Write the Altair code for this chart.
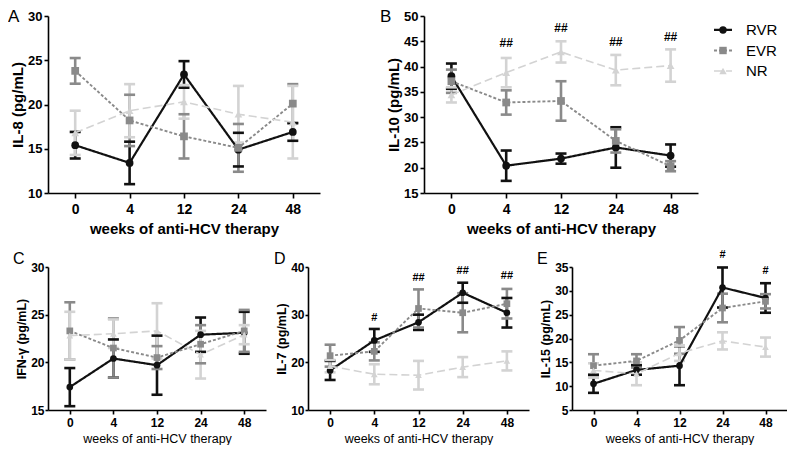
import altair as alt
import pandas as pd

FONT = "Liberation Sans"

weeks = ["0", "4", "12", "24", "48"]
groups = ["RVR", "EVR", "NR"]
colors = ["#111111", "#8a8a8a", "#d3d3d3"]
dashes = [[1, 0], [3, 2], [8, 4]]
widths = [2.2, 1.6, 1.8]
shapes = ["circle", "square", "triangle-up"]

# Panel A: IL-8
a_rvr = [15.4, 13.4, 23.4, 14.9, 16.9]
a_rvr_err = [1.5, 2.4, 1.5, 1.9, 1.0]
a_evr = [23.8, 18.2, 16.4, 15.1, 20.1]
a_evr_err = [1.45, 2.9, 2.5, 2.7, 2.2]
a_nr = [16.8, 19.3, 20.3, 18.9, 18.0]
a_nr_err = [2.5, 3.0, 1.9, 3.2, 4.1]

# Panel B: IL-10
b_rvr = [38.1, 20.4, 21.8, 24.0, 22.4]
b_rvr_err = [2.5, 3.0, 1.0, 4.0, 2.2]
b_evr = [37.1, 32.9, 33.2, 25.3, 20.3]
b_evr_err = [2.3, 2.4, 3.9, 2.3, 1.0]
b_nr = [34.4, 38.8, 42.9, 39.3, 40.2]
b_nr_err = [1.5, 2.9, 2.1, 3.0, 3.2]
b_note_weeks = ["4", "12", "24", "48"]
b_note_y = [44.7, 47.6, 44.9, 45.9]
b_note_txt = ["##", "##", "##", "##"]

# Panel C: IFN-gamma
c_rvr = [17.4, 20.4, 19.7, 22.9, 23.1]
c_rvr_err = [2.0, 2.0, 3.1, 1.8, 2.2]
c_evr = [23.3, 21.5, 20.5, 21.9, 23.3]
c_evr_err = [3.0, 3.1, 1.2, 2.0, 2.2]
c_nr = [22.8, 23.0, 23.3, 20.8, 22.9]
c_nr_err = [2.5, 1.5, 2.9, 2.5, 1.0]

# Panel D: IL-7
d_rvr = [18.3, 24.6, 28.4, 34.6, 30.4]
d_rvr_err = [2.0, 2.4, 1.6, 2.1, 3.1]
d_evr = [21.4, 22.3, 31.3, 30.4, 32.3]
d_evr_err = [2.3, 1.9, 4.0, 4.1, 3.1]
d_nr = [19.2, 17.5, 17.3, 19.0, 20.3]
d_nr_err = [1.3, 2.1, 3.0, 2.1, 2.0]
d_note_weeks = ["4", "12", "24", "48"]
d_note_y = [29.2, 37.6, 39.1, 38.1]
d_note_txt = ["#", "##", "##", "##"]

# Panel E: IL-15
e_rvr = [10.5, 13.4, 14.3, 30.7, 28.5]
e_rvr_err = [1.9, 1.0, 4.1, 4.2, 3.1]
e_evr = [14.3, 15.3, 19.6, 26.4, 27.8]
e_evr_err = [2.4, 1.4, 2.8, 3.0, 1.5]
e_nr = [13.3, 12.6, 16.9, 19.5, 18.2]
e_nr_err = [1.5, 2.4, 1.6, 1.8, 2.0]
e_note_weeks = ["24", "48"]
e_note_y = [37.6, 34.1]
e_note_txt = ["#", "#"]


def make_df(means, errs):
    rows = []
    for g, ml, el in zip(groups, means, errs):
        for wk, m, e in zip(weeks, ml, el):
            rows.append({"week": wk, "group": g, "mean": m, "lo": m - e, "hi": m + e})
    return pd.DataFrame(rows)


color = alt.Color("group:N", scale=alt.Scale(domain=groups, range=colors), legend=None)
dash = alt.StrokeDash("group:N", scale=alt.Scale(domain=groups, range=dashes), legend=None)
swidth = alt.StrokeWidth("group:N", scale=alt.Scale(domain=groups, range=widths), legend=None)
shape = alt.Shape("group:N", scale=alt.Scale(domain=groups, range=shapes), legend=None)


def panel(letter, ytitle, means, errs, ydomain, yticks, notes, w, h, big, lx, ly):
    df = make_df(means, errs)
    lab = 14 if big else 12
    tit = 15 if big else 12.5
    xaxis = alt.Axis(title="weeks of anti-HCV therapy", labelAngle=0, labelFontSize=lab,
                     titleFontSize=tit, titleFontWeight="bold" if big else "normal",
                     labelPadding=4 if big else 3, titlePadding=5 if big else 4,
                     tickSize=5 if big else 4)
    yaxis = alt.Axis(title=ytitle, values=yticks, labelFontSize=13 if big else 12,
                     titleFontSize=tit, labelPadding=2 if big else 1, titlePadding=2 if big else 2,
                     tickSize=4 if big else 3)
    xs = alt.Scale(type="point", padding=0.5, domain=weeks)
    ys = alt.Scale(domain=ydomain, nice=False, zero=False)

    def xe():
        return alt.X("week:N", sort=weeks, scale=xs, axis=xaxis)

    def ye(f):
        return alt.Y(f, scale=ys, axis=yaxis, title=ytitle)

    base = alt.Chart(df)
    bars = base.mark_rule(strokeWidth=2.6).encode(x=xe(), y=ye("lo:Q"), y2="hi:Q", color=color)
    cap_lo = base.mark_tick(thickness=2.6, size=11, opacity=1).encode(x=xe(), y=ye("lo:Q"), color=color)
    cap_hi = base.mark_tick(thickness=2.6, size=11, opacity=1).encode(x=xe(), y=ye("hi:Q"), color=color)
    line = base.mark_line().encode(x=xe(), y=ye("mean:Q"), color=color, strokeDash=dash,
                                   strokeWidth=swidth)
    pts = base.mark_point(filled=True, opacity=1, size=60 if big else 45).encode(
        x=xe(), y=ye("mean:Q"), color=color, shape=shape)
    layers = [bars, cap_lo, cap_hi, line, pts]
    if notes is not None:
        nw, nyv, nt = notes
        ndf = pd.DataFrame({"week": nw, "yv": nyv, "txt": nt})
        layers.append(alt.Chart(ndf).mark_text(fontSize=12 if big else 11, fontWeight="bold",
                                               color="black", font=FONT).encode(
            x=xe(), y=ye("yv:Q"), text="txt:N"))
    ldf = pd.DataFrame({"t": [letter]})
    layers.append(alt.Chart(ldf).mark_text(align="left", baseline="top", fontSize=17 if big else 16,
                                           color="black", font=FONT, x=lx, y=ly).encode(text="t:N"))
    return alt.layer(*layers).properties(width=w, height=h)


A = panel("A", "IL-8 (pg/mL)", [a_rvr, a_evr, a_nr], [a_rvr_err, a_evr_err, a_nr_err],
          [10, 30], [10, 15, 20, 25, 30], None, 272, 177, True, -40, -7)
B = panel("B", "IL-10 (pg/mL)", [b_rvr, b_evr, b_nr], [b_rvr_err, b_evr_err, b_nr_err],
          [15, 50], [15, 20, 25, 30, 35, 40, 45, 50], (b_note_weeks, b_note_y, b_note_txt),
          274, 177, True, -44, -7)
C = panel("C", "IFN-\u03b3 (pg/mL)", [c_rvr, c_evr, c_nr], [c_rvr_err, c_evr_err, c_nr_err],
          [15, 30], [15, 20, 25, 30], None, 218, 143, False, -35, -16)
D = panel("D", "IL-7 (pg/mL)", [d_rvr, d_evr, d_nr], [d_rvr_err, d_evr_err, d_nr_err],
          [10, 40], [10, 20, 30, 40], (d_note_weeks, d_note_y, d_note_txt),
          221, 143, False, -34, -16)
E = panel("E", "IL-15 (pg/mL)", [e_rvr, e_evr, e_nr], [e_rvr_err, e_evr_err, e_nr_err],
          [5, 35], [5, 10, 15, 20, 25, 30, 35], (e_note_weeks, e_note_y, e_note_txt),
          215, 143, False, -35, -16)

leg_df = pd.DataFrame({"group": groups})
lys = alt.Y("group:N", sort=groups, scale=alt.Scale(type="point", domain=groups, padding=0.68), axis=None)
leg_line = alt.Chart(leg_df).mark_rule().encode(x=alt.value(0), x2=alt.value(18), y=lys, color=color,
                                                strokeDash=dash, strokeWidth=swidth)
leg_pt = alt.Chart(leg_df).mark_point(filled=True, opacity=1, size=55).encode(
    x=alt.value(9), y=lys, color=color, shape=shape)
leg_txt = alt.Chart(leg_df).mark_text(align="left", fontSize=15, font=FONT, color="black").encode(
    x=alt.value(32), y=lys, text="group:N")
legend = alt.layer(leg_line, leg_pt, leg_txt).properties(width=62, height=69)

top = alt.hconcat(A, alt.hconcat(B, legend, spacing=14), spacing=60)
bottom = alt.hconcat(C, D, E, spacing=8)
chart = alt.vconcat(top, bottom, spacing=12).properties(padding=0, background="white").configure_axis(
    domainColor="black", domainWidth=1.6, tickColor="black", tickWidth=1.6, grid=False,
    labelColor="black", titleColor="black", labelFont=FONT, titleFont=FONT,
    labelFontWeight="bold", titleFontWeight="bold"
).configure_view(stroke=None)

chart.save("out.html", embed_options={"renderer": "svg", "actions": False})
